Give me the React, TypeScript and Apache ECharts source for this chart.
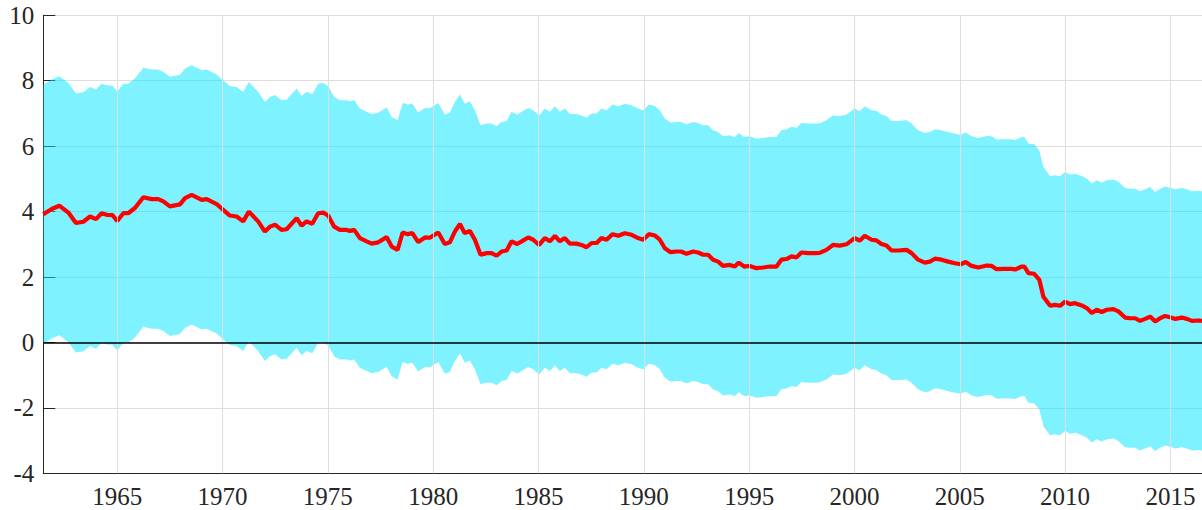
import React, { useEffect, useRef } from "react";
import * as echarts from "echarts";

// quarterly dates (decimal years) of the line's vertices
const years = [
  1961.49, 1961.89, 1962.25, 1962.68, 1963.04, 1963.39, 1963.71, 1963.99, 1964.26, 1964.5,
  1964.78, 1965.0, 1965.29, 1965.52, 1965.84, 1966.24, 1966.63, 1966.95, 1967.19, 1967.5,
  1967.98, 1968.22, 1968.53, 1969.01, 1969.25, 1969.72, 1970.03, 1970.35, 1970.67, 1970.98,
  1971.25, 1971.69, 1972.01, 1972.25, 1972.49, 1972.8, 1973.04, 1973.52, 1973.75, 1973.99,
  1974.26, 1974.54, 1974.78, 1975.02, 1975.3, 1975.57, 1975.89, 1976.05, 1976.25, 1976.52,
  1976.84, 1977.08, 1977.39, 1977.79, 1978.03, 1978.31, 1978.55, 1978.79, 1979.01, 1979.29,
  1979.61, 1979.84, 1980.24, 1980.55, 1980.79, 1981.03, 1981.27, 1981.5, 1981.74, 1981.98,
  1982.25, 1982.54, 1982.77, 1983.01, 1983.25, 1983.49, 1983.72, 1983.99, 1984.2, 1984.51,
  1984.75, 1985.03, 1985.3, 1985.54, 1985.78, 1986.01, 1986.25, 1986.49, 1986.8, 1987.04,
  1987.28, 1987.52, 1987.76, 1987.99, 1988.23, 1988.52, 1988.79, 1989.1, 1989.42, 1989.73,
  1989.97, 1990.24, 1990.52, 1990.76, 1991.0, 1991.27, 1991.55, 1991.76, 1992.03, 1992.34,
  1992.58, 1992.82, 1993.05, 1993.29, 1993.53, 1993.76, 1994.08, 1994.32, 1994.51, 1994.76,
  1995.03, 1995.35, 1995.66, 1995.98, 1996.3, 1996.53, 1996.77, 1997.01, 1997.25, 1997.48,
  1997.8, 1998.11, 1998.35, 1998.67, 1998.98, 1999.3, 1999.62, 2000.01, 2000.25, 2000.49,
  2000.81, 2001.04, 2001.28, 2001.52, 2001.76, 2002.07, 2002.47, 2002.71, 2003.02, 2003.34,
  2003.58, 2003.82, 2004.13, 2004.45, 2004.77, 2005.04, 2005.28, 2005.56, 2005.88, 2006.28,
  2006.52, 2006.75, 2007.07, 2007.47, 2007.63, 2007.95, 2008.07, 2008.26, 2008.53, 2008.78,
  2008.97, 2009.29, 2009.52, 2009.76, 2010.0, 2010.23, 2010.47, 2010.79, 2011.03, 2011.27,
  2011.5, 2011.74, 2011.98, 2012.3, 2012.53, 2012.85, 2013.09, 2013.33, 2013.56, 2013.8,
  2014.04, 2014.28, 2014.51, 2014.75, 2014.99, 2015.23, 2015.54, 2015.78, 2016.02, 2016.34,
  2016.5,
];

// red line (central estimate)
const rate = [
  3.92, 4.08, 4.18, 3.97, 3.65, 3.69, 3.85, 3.77, 3.95, 3.9,
  3.89, 3.71, 3.95, 3.95, 4.11, 4.44, 4.38, 4.38, 4.31, 4.16,
  4.22, 4.41, 4.51, 4.36, 4.38, 4.23, 4.05, 3.88, 3.85, 3.7,
  4.0, 3.7, 3.39, 3.54, 3.6, 3.44, 3.46, 3.8, 3.57, 3.7,
  3.63, 3.95, 3.97, 3.87, 3.54, 3.44, 3.44, 3.41, 3.44, 3.19,
  3.09, 3.02, 3.06, 3.22, 2.93, 2.83, 3.36, 3.31, 3.34, 3.07,
  3.21, 3.2, 3.36, 3.01, 3.06, 3.39, 3.62, 3.34, 3.41, 3.14,
  2.68, 2.73, 2.73, 2.65, 2.78, 2.81, 3.09, 3.01, 3.09, 3.21,
  3.14, 2.98, 3.19, 3.09, 3.26, 3.09, 3.19, 3.02, 3.02, 2.98,
  2.91, 3.04, 3.04, 3.19, 3.14, 3.31, 3.26, 3.34, 3.29, 3.19,
  3.14, 3.31, 3.27, 3.14, 2.88, 2.76, 2.78, 2.78, 2.71, 2.78,
  2.75, 2.68, 2.68, 2.53, 2.47, 2.34, 2.37, 2.32, 2.44, 2.32,
  2.34, 2.27, 2.29, 2.32, 2.32, 2.53, 2.55, 2.63, 2.6, 2.75,
  2.73, 2.73, 2.74, 2.83, 2.98, 2.96, 3.0, 3.19, 3.11, 3.26,
  3.14, 3.12, 3.01, 2.96, 2.81, 2.81, 2.83, 2.73, 2.53, 2.44,
  2.47, 2.56, 2.53, 2.47, 2.42, 2.39, 2.46, 2.34, 2.29, 2.35,
  2.34, 2.24, 2.25, 2.25, 2.23, 2.32, 2.32, 2.12, 2.1, 1.91,
  1.4, 1.12, 1.15, 1.12, 1.25, 1.17, 1.2, 1.13, 1.05, 0.9,
  1.0, 0.93, 1.0, 1.02, 0.95, 0.76, 0.74, 0.74, 0.66, 0.72,
  0.79, 0.64, 0.74, 0.81, 0.77, 0.72, 0.76, 0.72, 0.66, 0.67,
  0.66,
];

// half width of the cyan band around the line
const bandHalfWidth = 3.96;

const yearTicks = [1965, 1970, 1975, 1980, 1985, 1990, 1995, 2000, 2005, 2010, 2015];

const AXIS = "#262626";
const GRID = "#dedede";
const FONT = "Times New Roman, serif";

const App = () => {
  const chartRef = useRef<HTMLDivElement>(null);

  useEffect(() => {
    if (!chartRef.current) return;
    const chart = echarts.init(chartRef.current, undefined, { renderer: "svg" });

    const bandData = years.map((y, i) => [y, rate[i] - bandHalfWidth, rate[i] + bandHalfWidth]);

    const option: echarts.EChartsOption = {
      animation: false,
      backgroundColor: "#ffffff",
      grid: { left: 43.3, right: 0, top: 15.3, bottom: 36.7, containLabel: false },
      xAxis: {
        type: "value",
        min: years[0],
        max: years[years.length - 1],
        axisLine: { show: true, onZero: false, lineStyle: { color: AXIS, width: 1 } },
        axisTick: {
          show: true,
          inside: true,
          length: 12,
          customValues: yearTicks,
          lineStyle: { color: AXIS },
        },
        axisLabel: {
          customValues: yearTicks,
          formatter: (v: number) => String(v),
          color: AXIS,
          fontFamily: FONT,
          fontSize: 25,
          margin: 11,
        },
        splitLine: { show: false },
      } as any,
      yAxis: {
        type: "value",
        min: -4,
        max: 10,
        interval: 2,
        axisLine: { show: true, lineStyle: { color: AXIS, width: 1 } },
        axisTick: { show: true, inside: true, length: 12, lineStyle: { color: AXIS } },
        axisLabel: { color: AXIS, fontFamily: FONT, fontSize: 25, margin: 9 },
        splitLine: { show: true, lineStyle: { color: GRID, width: 1 } },
      },
      series: [
        {
          type: "custom",
          name: "band",
          data: bandData,
          encode: { x: 0, y: [1, 2] },
          clip: true,
          silent: true,
          z: 2,
          renderItem: (params: any, api: any) => {
            if (params.dataIndex !== 0) return null;
            const pts: number[][] = [];
            for (let i = 0; i < years.length; i++) {
              pts.push(api.coord([years[i], rate[i] + bandHalfWidth]));
            }
            for (let i = years.length - 1; i >= 0; i--) {
              pts.push(api.coord([years[i], rate[i] - bandHalfWidth]));
            }
            return {
              type: "polygon",
              shape: { points: pts },
              style: { fill: "rgba(0,230,255,0.5)", stroke: "none" },
            };
          },
        } as any,
        {
          type: "line",
          name: "grid-x",
          data: [],
          silent: true,
          z: 1,
          markLine: {
            silent: true,
            symbol: ["none", "none"],
            label: { show: false },
            lineStyle: { color: GRID, width: 1, type: "solid" },
            data: yearTicks.map((y) => ({ xAxis: y })),
          },
        },
        {
          type: "line",
          name: "rate",
          data: years.map((y, i) => [y, rate[i]]),
          showSymbol: false,
          lineStyle: { color: "#ff0000", width: 4.2 },
          itemStyle: { color: "#ff0000" },
          z: 4,
          markLine: {
            silent: true,
            symbol: ["none", "none"],
            label: { show: false },
            lineStyle: { color: "#000000", width: 1.5, type: "solid" },
            data: [{ yAxis: 0 }],
          },
        },
      ],
    };

    chart.setOption(option);

    return () => {
      chart.dispose();
    };
  }, []);

  return (
    <div
      ref={chartRef}
      style={{ position: "fixed", left: 0, top: 0, width: 1202, height: 510 }}
    />
  );
};

export default App;
